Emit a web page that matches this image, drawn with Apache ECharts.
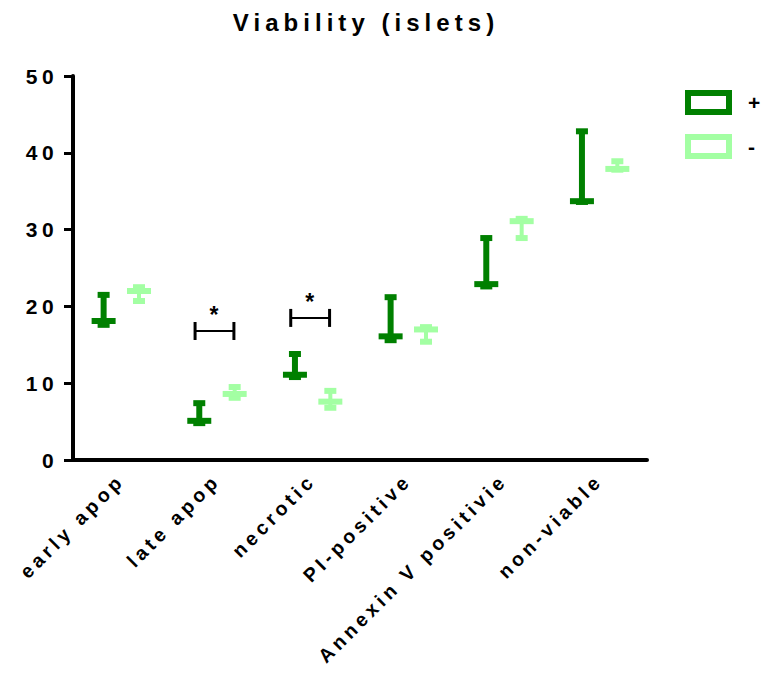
<!DOCTYPE html>
<html>
<head>
<meta charset="utf-8">
<style>
  html, body { margin: 0; padding: 0; background: #fff; }
  #main { width: 771px; height: 681px; }
  #main svg text { letter-spacing: 0.21em; }
</style>
<script src="https://cdn.jsdelivr.net/npm/echarts@6/dist/echarts.min.js"></script>
</head>
<body>
<div id="main"></div>
<script>
// ---- data ----
var categories = ['early apop', 'late apop', 'necrotic', 'PI-positive', 'Annexin V positivie', 'non-viable'];
var plusMid  = [18.1, 5.1, 11.1, 16.1, 22.9, 33.7];
var plusLow  = [17.6, 4.8, 10.8, 15.6, 22.6, 33.6];
var plusHigh = [21.5, 7.4, 13.8, 21.2, 28.9, 42.8];
var minusMid  = [22.0, 8.6, 7.6, 17.0, 31.1, 37.9];
var minusLow  = [20.7, 8.1, 6.8, 15.4, 28.9, 37.8];
var minusHigh = [22.5, 9.5, 9.0, 17.3, 31.4, 38.9];
var sigCategories = [1, 2];
var sigLevels = [16.8, 18.5];
var sigLabels = ['*', '*'];
var yTicks = [0, 10, 20, 30, 40, 50];

var DARK = '#008000';
var LIGHT = '#A3FFA3';
var FONT = "'Liberation Sans', Arial, sans-serif";

function buildData(mid, low, high) {
  return categories.map(function (c, i) { return [i, mid[i], low[i], high[i]]; });
}

function makeRender(offsetFrac, color, stemW) {
  return function (params, api) {
    var cat = api.value(0);
    var bw = api.size([1, 0])[0];
    var pMid = api.coord([cat, api.value(1)]);
    var yLo = api.coord([cat, api.value(2)])[1];
    var yHi = api.coord([cat, api.value(3)])[1];
    var x = pMid[0] + offsetFrac * bw;
    var yM = pMid[1];
    var st = { fill: color };
    return {
      type: 'group',
      children: [
        { type: 'rect', shape: { x: x - stemW / 2, y: yHi, width: stemW, height: yLo - yHi }, style: st },
        { type: 'rect', shape: { x: x - 6, y: yHi - 3, width: 12, height: 6 }, style: st },
        { type: 'rect', shape: { x: x - 6, y: yLo - 3, width: 12, height: 6 }, style: st },
        { type: 'rect', shape: { x: x - 12, y: yM - 3, width: 24, height: 6 }, style: st }
      ]
    };
  };
}

function renderSig(params, api) {
  var cat = api.value(0);
  var bw = api.size([1, 0])[0];
  var p = api.coord([cat, api.value(1)]);
  var x1 = p[0] - 0.224 * bw, x2 = p[0] + 0.182 * bw, y = p[1];
  var xc = (x1 + x2) / 2;
  return {
    type: 'group',
    children: [
      { type: 'line', shape: { x1: x1, y1: y, x2: x2, y2: y }, style: { stroke: '#000', lineWidth: 2 } },
      { type: 'line', shape: { x1: x1, y1: y - 9, x2: x1, y2: y + 9 }, style: { stroke: '#000', lineWidth: 3 } },
      { type: 'line', shape: { x1: x2, y1: y - 9, x2: x2, y2: y + 9 }, style: { stroke: '#000', lineWidth: 3 } },
      { type: 'text', style: { text: sigLabels[params.dataIndex], x: xc + 2, y: y - 16, textAlign: 'center', textVerticalAlign: 'middle', font: 'bold 23px ' + FONT, fill: '#000' } }
    ]
  };
}

var chart = echarts.init(document.getElementById('main'), null, { renderer: 'svg' });
chart.setOption({
  animation: false,
  backgroundColor: '#fff',
  textStyle: { fontFamily: FONT, color: '#000' },
  title: {
    text: 'Viability (islets)',
    left: 361, top: 5, textAlign: 'center',
    textStyle: { fontSize: 24, fontWeight: 'bold', color: '#000', fontFamily: FONT }
  },
  legend: {
    orient: 'vertical',
    left: 680, top: 85,
    icon: 'rect',
    itemWidth: 41, itemHeight: 19, itemGap: 19,
    textStyle: { fontSize: 21, fontWeight: 'bold', color: '#000', fontFamily: FONT, padding: [0, 0, 0, 14] },
    data: [
      { name: '+', itemStyle: { color: '#fff', borderColor: DARK, borderWidth: 6 } },
      { name: '-', itemStyle: { color: '#fff', borderColor: LIGHT, borderWidth: 6 } }
    ]
  },
  grid: { left: 73, right: 124, top: 76, bottom: 221, containLabel: false },
  xAxis: {
    type: 'category',
    data: categories,
    boundaryGap: true,
    axisLine: { lineStyle: { color: '#000', width: 4 } },
    axisTick: { alignWithLabel: true, length: 10, lineStyle: { color: '#000', width: 3 } },
    axisLabel: { rotate: 45, margin: 17, fontSize: 19.5, fontWeight: 'bold', color: '#000', fontFamily: FONT, interval: 0 },
    splitLine: { show: false }
  },
  yAxis: {
    type: 'value',
    min: yTicks[0], max: yTicks[yTicks.length - 1], interval: 10,
    axisLine: { show: true, lineStyle: { color: '#000', width: 4 } },
    axisTick: { show: true, length: 9, lineStyle: { color: '#000', width: 3 } },
    axisLabel: { margin: 15, fontSize: 21, fontWeight: 'bold', color: '#000', fontFamily: FONT },
    splitLine: { show: false }
  },
  series: [
    {
      name: '+', type: 'custom', renderItem: makeRender(-0.18, DARK, 6),
      itemStyle: { color: DARK },
      encode: { x: 0, y: [1, 2, 3] },
      data: buildData(plusMid, plusLow, plusHigh), z: 3
    },
    {
      name: '-', type: 'custom', renderItem: makeRender(0.19, LIGHT, 4),
      itemStyle: { color: LIGHT },
      encode: { x: 0, y: [1, 2, 3] },
      data: buildData(minusMid, minusLow, minusHigh), z: 3
    },
    {
      name: 'sig', type: 'custom', renderItem: renderSig,
      encode: { x: 0, y: 1 },
      data: sigCategories.map(function (c, i) { return [c, sigLevels[i]]; }), z: 4
    }
  ]
});
</script>
</body>
</html>
